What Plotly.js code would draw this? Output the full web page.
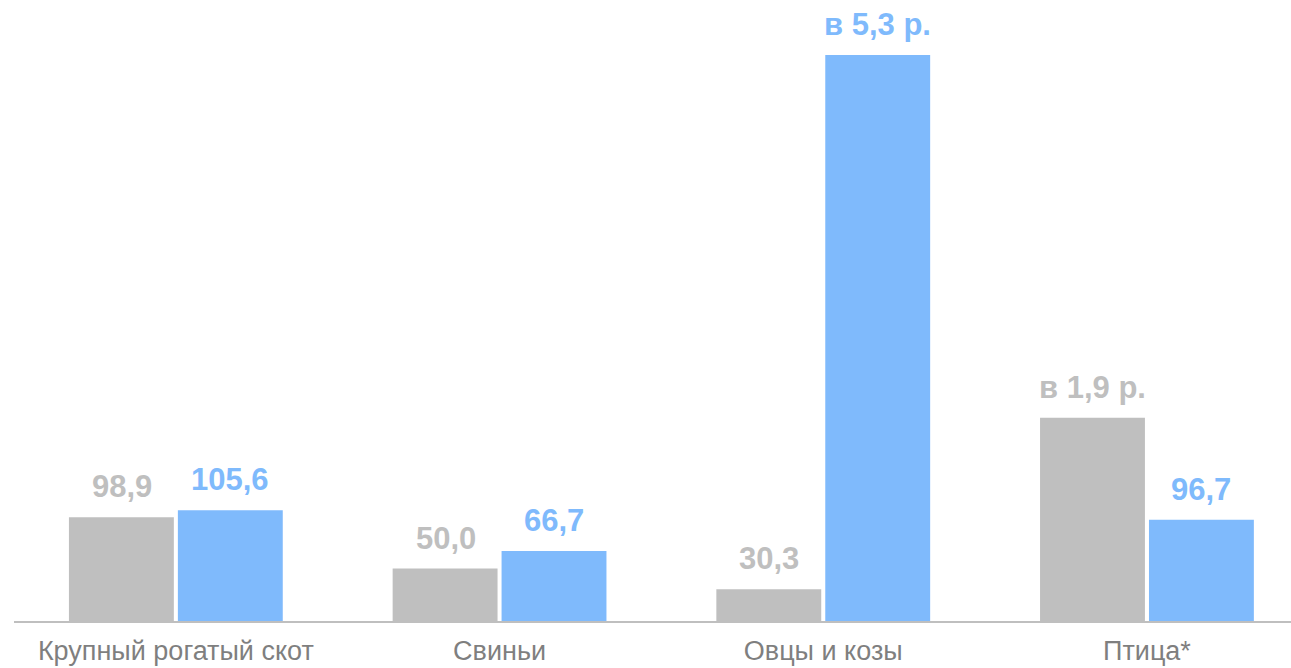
<!DOCTYPE html>
<html>
<head>
<meta charset="utf-8">
<script src="https://cdn.plot.ly/plotly-3.0.1.min.js"></script>
<style>
  html, body { margin: 0; padding: 0; background: #ffffff; }
  #chart { width: 1291px; height: 668px; }
</style>
</head>
<body>
<div id="chart"></div>
<script>
// Data
const categories = ['Крупный рогатый скот', 'Свиньи', 'Овцы и козы', 'Птица*'];
const greyValues = [98.9, 50.0, 30.3, 194];
const blueValues = [105.6, 66.7, 540, 96.7];
const greyLabels = ['98,9', '50,0', '30,3', 'в 1,9 р.'];
const blueLabels = ['105,6', '66,7', 'в 5,3 р.', '96,7'];

const GREY = '#BFBFBF';
const BLUE = '#7FBAFC';

const traces = [
  {
    type: 'bar', x: categories, y: greyValues, name: 'grey',
    marker: { color: GREY, line: { width: 0 } },
    hoverinfo: 'none'
  },
  {
    type: 'bar', x: categories, y: blueValues, name: 'blue',
    marker: { color: BLUE, line: { width: 0 } },
    hoverinfo: 'none'
  }
];

const labelFont = (c) => ({ family: '"Liberation Sans", Arial, sans-serif', size: 31, color: c });
const annotations = [];
categories.forEach((c, i) => {
  annotations.push({
    xref: 'x', yref: 'y', x: c, y: greyValues[i], text: '<b>' + greyLabels[i] + '</b>',
    showarrow: false, xanchor: 'center', yanchor: 'bottom', xshift: -54, yshift: 11,
    font: labelFont(GREY)
  });
  annotations.push({
    xref: 'x', yref: 'y', x: c, y: blueValues[i], text: '<b>' + blueLabels[i] + '</b>',
    showarrow: false, xanchor: 'center', yanchor: 'bottom', xshift: 54.5, yshift: 11,
    font: labelFont(BLUE)
  });
});

const layout = {
  width: 1291, height: 668,
  margin: { l: 14, r: 0, t: 0, b: 47, pad: 0 },
  paper_bgcolor: '#ffffff', plot_bgcolor: '#ffffff',
  showlegend: false,
  barmode: 'group',
  bargap: 0.327,
  bargroupgap: 0.037,
  xaxis: {
    type: 'category',
    range: [-0.5, 3.445],
    showline: true, linecolor: '#BFBFBF', linewidth: 2,
    showgrid: false, zeroline: false, ticks: '',
    ticklabelstandoff: 5,
    tickfont: { family: '"Liberation Sans", Arial, sans-serif', size: 27, color: '#7F7F7F' },
    fixedrange: true
  },
  yaxis: {
    range: [0, 592.6],
    visible: false, showgrid: false, zeroline: false,
    fixedrange: true
  },
  annotations: annotations,
  font: { family: '"Liberation Sans", Arial, sans-serif' }
};

Plotly.newPlot('chart', traces, layout, { displayModeBar: false, staticPlot: true });
</script>
</body>
</html>
